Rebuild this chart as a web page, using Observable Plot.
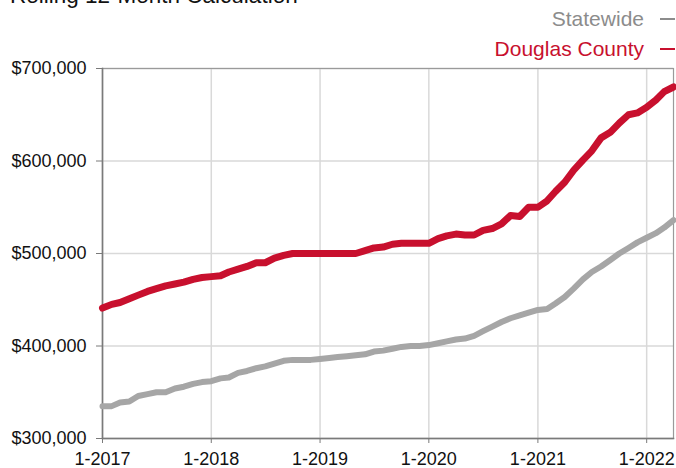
<!DOCTYPE html>
<html>
<head>
<meta charset="utf-8">
<script src="https://cdn.jsdelivr.net/npm/d3@7"></script>
<script src="https://cdn.jsdelivr.net/npm/@observablehq/plot@0.6"></script>
<style>
  html, body { margin: 0; padding: 0; background: #fff; }
  #wrap { position: relative; width: 676px; height: 468px; overflow: hidden; font-family: "Liberation Sans", Arial, Helvetica, sans-serif; }
  #title { position: absolute; left: 10px; top: -15px; font-size: 22.5px; line-height: 22px; color: #111; white-space: nowrap; }
  .leg { position: absolute; right: 1px; font-size: 21px; line-height: 21px; white-space: nowrap; }
  .leg .dash { display: inline-block; width: 15px; height: 2px; margin-left: 16px; vertical-align: 6px; }
  #chart { position: absolute; left: 0; top: 0; }
</style>
</head>
<body>
<div id="wrap">
  <div id="chart"></div>
  <div id="title">Rolling 12-Month Calculation</div>
  <div class="leg" style="top:8px;color:#8c8c8c">Statewide<span class="dash" style="background:#8c8c8c"></span></div>
  <div class="leg" style="top:38px;color:#c8102e">Douglas County<span class="dash" style="background:#c8102e"></span></div>
</div>
<script>
// Monthly series, Jan 2017 .. Apr 2022 (values in $)
const startMonth = "2017-01";
const endMonth = "2022-04";
const douglasCounty = [
  441, 445, 447, 451, 455, 459, 462, 465, 467, 469, 472, 474,
  475, 476, 480, 483, 486, 490, 490, 495, 498, 500, 500, 500,
  500, 500, 500, 500, 500, 503, 506, 507, 510, 511, 511, 511,
  511, 516, 519, 521, 520, 520, 525, 527, 532, 541, 540, 550,
  550, 557, 567, 577, 590, 601, 611, 625, 631, 641, 650, 652,
  658, 666, 675, 680
].map(v => v * 1000);
const statewide = [
  335, 335, 339, 340, 346, 348, 350, 350, 354, 356, 359, 361,
  362, 365, 366, 371, 373, 376, 378, 381, 384, 385, 385, 385,
  386, 387, 388, 389, 390, 391, 394, 395, 397, 399, 400, 400,
  401, 403, 405, 407, 408, 411, 416, 421, 426, 430, 433, 436,
  439, 440, 446, 453, 462, 472, 480, 486, 493, 500, 506, 512,
  517, 522, 528, 536
].map(v => v * 1000);
const yTicks = [300000, 400000, 500000, 600000, 700000];
const yearTicks = ["2017-01", "2018-01", "2019-01", "2020-01", "2021-01", "2022-01"];

const parseM = d3.utcParse("%Y-%m");
const months = d3.utcMonth.range(parseM(startMonth), d3.utcMonth.offset(parseM(endMonth), 1));
const rowsDC = months.map((date, i) => ({date, value: douglasCounty[i]}));
const rowsSW = months.map((date, i) => ({date, value: statewide[i]}));
const fmtX = d => `${d.getUTCMonth() + 1}-${d.getUTCFullYear()}`;

const chart = Plot.plot({
  width: 676,
  height: 468,
  marginLeft: 102,
  marginRight: 3,
  marginTop: 68,
  marginBottom: 30,
  style: { fontFamily: "'Liberation Sans', Arial, Helvetica, sans-serif", fontSize: "18px", color: "#111", background: "transparent" },
  x: {
    type: "utc",
    domain: [months[0], months[months.length - 1]],
    label: null
  },
  y: {
    domain: [300000, 700000],
    label: null
  },
  marks: [
    Plot.gridX({ticks: yearTicks.map(parseM), stroke: "#d9d9d9", strokeOpacity: 1, strokeWidth: 1.5}),
    Plot.gridY({ticks: yTicks, stroke: "#d9d9d9", strokeOpacity: 1, strokeWidth: 1.5}),
    Plot.frame({stroke: "#9a9a9a", strokeWidth: 1.2}),
    Plot.frame({anchor: "left", stroke: "#7a7a7a", strokeWidth: 1.5}),
    Plot.frame({anchor: "bottom", stroke: "#7a7a7a", strokeWidth: 1.5}),
    Plot.axisX({ticks: yearTicks.map(parseM), stroke: "#7a7a7a", tickSize: 5, tickPadding: 9, tickFormat: fmtX, fill: "#111"}),
    Plot.axisY({ticks: yTicks, stroke: "#7a7a7a", tickSize: 6, tickPadding: 10, tickFormat: d3.format("$,"), fill: "#111"}),
    Plot.lineY(rowsSW, {x: "date", y: "value", stroke: "#a6a6a6", strokeWidth: 6, strokeLinejoin: "round"}),
    Plot.lineY(rowsDC, {x: "date", y: "value", stroke: "#c8102e", strokeWidth: 7, strokeLinejoin: "round"})
  ]
});
document.getElementById("chart").appendChild(chart);
</script>
</body>
</html>
